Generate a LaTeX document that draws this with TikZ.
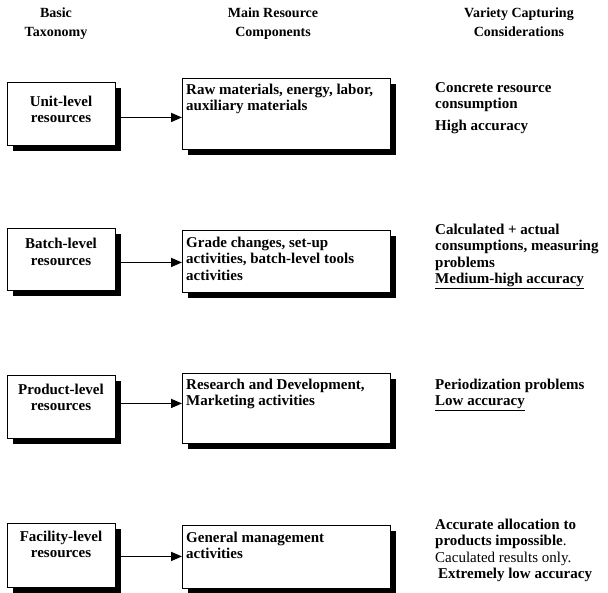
\documentclass[tikz,border=0pt]{standalone}
\usepackage{fontspec}
\setmainfont{Liberation Serif}
\usetikzlibrary{shadows,arrows.meta}
\newcommand\bx{\fontsize{15}{16.5}\selectfont\bfseries}
\newcommand\hx{\fontsize{14}{19}\selectfont\bfseries}
\tikzset{
  shbox/.style={draw=black, line width=0.9pt, fill=white, inner sep=0pt, anchor=north west,
    drop shadow={shadow xshift=5.5pt, shadow yshift=-5.5pt, fill=black, opacity=1}},
  txt/.style={font=\bx, align=left, anchor=base west, inner sep=0pt},
  ctxt/.style={font=\bx, align=center, anchor=base, inner sep=0pt},
  head/.style={font=\hx, align=center, anchor=base, inner sep=0pt},
  arr/.style={line width=1.6pt, -{Triangle[length=11pt,width=9pt]}, shorten >=0pt}
}
\begin{document}
\begin{tikzpicture}[x=1pt,y=-1pt]
\useasboundingbox[fill=white] (0,0) rectangle (608,592);
% headers (base anchor = last line baseline)
\node[head] (h1) at (56,36) {Basic\\Taxonomy};
\node[head] (h2) at (273,36) {Main Resource\\Components};
\node[head] (h3) at (519,36) {Variety Capturing\\Considerations};
% row 1
\node[shbox, minimum width=108pt, minimum height=63pt] (l1) at (7,82) {};
\node[ctxt] (l1t) at (61,122.5) {Unit-level\\resources};
\node[shbox, minimum width=208pt, minimum height=71pt] (m1) at (182,78) {};
\node[txt] (m1t) at (186,110.5) {Raw materials, energy, labor,\\auxiliary materials};
\node[txt] (r1) at (435,130) {Concrete resource\\consumption\\[5pt]High accuracy};
\draw[arr] ([yshift=-3.5pt]l1.east) -- ([yshift=-3.5pt]l1.east -| m1.west);
% row 2
\node[shbox, minimum width=108pt, minimum height=62pt] (l2) at (7,228) {};
\node[ctxt] (l2t) at (61,265) {Batch-level\\resources};
\node[shbox, minimum width=208pt, minimum height=62pt] (m2) at (182,230) {};
\node[txt] (m2t) at (186,280) {Grade changes, set-up\\activities, batch-level tools\\activities};
\node[txt] (r2) at (435,283.5) {Calculated + actual\\consumptions, measuring\\problems\\\underline{Medium-high accuracy}};
\draw[arr] ([yshift=-3pt]l2.east) -- ([yshift=-3pt]l2.east -| m2.west);
% row 3
\node[shbox, minimum width=108pt, minimum height=63pt] (l3) at (7,375) {};
\node[ctxt] (l3t) at (61,410.5) {Product-level\\resources};
\node[shbox, minimum width=208pt, minimum height=70pt] (m3) at (182,373) {};
\node[txt] (m3t) at (186,405.5) {Research and Development,\\Marketing activities};
\node[txt] (r3) at (435,405.5) {Periodization problems\\\underline{Low accuracy}};
\draw[arr] ([yshift=3.5pt]l3.east) -- ([yshift=3.5pt]l3.east -| m3.west);
% row 4
\node[shbox, minimum width=108pt, minimum height=64pt] (l4) at (7,523) {};
\node[ctxt] (l4t) at (61,557.5) {Facility-level\\resources};
\node[shbox, minimum width=208pt, minimum height=63pt] (m4) at (182,525) {};
\node[txt] (m4t) at (186,558.5) {General management\\activities};
\node[txt] (r4) at (435,578.5) {Accurate allocation to\\products impossible\mdseries.\\\mdseries Caculated results only.\\\hspace*{3pt}Extremely low accuracy};
\draw[arr] ([yshift=-1pt]l4.east) -- ([yshift=-1pt]l4.east -| m4.west);
\end{tikzpicture}
\end{document}
